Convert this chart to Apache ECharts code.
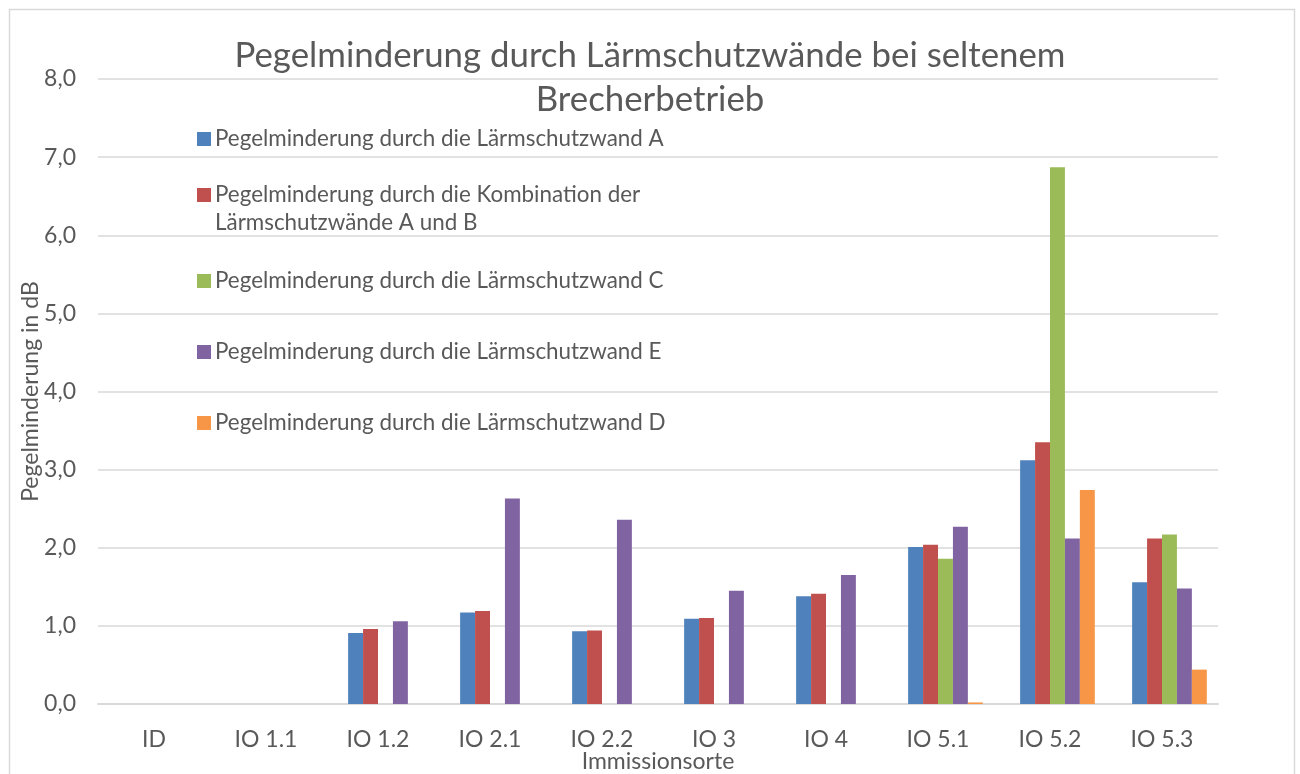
<!DOCTYPE html>
<html>
<head>
<meta charset="utf-8">
<script src="https://cdn.jsdelivr.net/npm/echarts@6/dist/echarts.min.js"></script>
<style>
  html, body { margin: 0; padding: 0; background: #fff; }
  #chart { width: 1300px; height: 774px; }
</style>
</head>
<body>
<div id="chart"></div>
<script>
const categories = ['ID', 'IO 1.1', 'IO 1.2', 'IO 2.1', 'IO 2.2', 'IO 3', 'IO 4', 'IO 5.1', 'IO 5.2', 'IO 5.3']
const seriesNames = [
  'Pegelminderung durch die Lärmschutzwand A',
  'Pegelminderung durch die Kombination der Lärmschutzwände A und B',
  'Pegelminderung durch die Lärmschutzwand C',
  'Pegelminderung durch die Lärmschutzwand E',
  'Pegelminderung durch die Lärmschutzwand D'
]
// the source chart has an empty first series, it only reserves the first slot
const leer = [null, null, null, null, null, null, null, null, null, null]
const wandA = [0, 0, 0.91, 1.17, 0.93, 1.09, 1.38, 2.01, 3.12, 1.56]
const wandAB = [0, 0, 0.96, 1.19, 0.94, 1.10, 1.41, 2.04, 3.35, 2.12]
const wandC = [0, 0, 0, 0, 0, 0, 0, 1.86, 6.87, 2.17]
const wandE = [0, 0, 1.06, 2.63, 2.36, 1.45, 1.65, 2.27, 2.12, 1.48]
const wandD = [0, 0, 0, 0, 0, 0, 0, 0.02, 2.74, 0.44]
const colors = ['#4F81BD', '#C0504D', '#9BBB59', '#8064A2', '#F79646']

const font = 'Lato'
const textColor = '#595959'
const lineColor = '#d9d9d9'

// legend rows: vertical position of each item (Excel places them one by one)
const legendTops = [125, 181, 267, 338, 409]
const legends = seriesNames.map((name, i) => {
  const lg = {
    orient: 'vertical',
    left: 197,
    top: legendTops[i],
    data: [name],
    itemWidth: 14,
    itemHeight: 14,
    itemGap: 0,
    icon: 'rect',
    textStyle: {
      fontFamily: font,
      fontSize: 22.4,
      color: textColor,
      lineHeight: 28,
      padding: [0, 0, 0, -1]
    },
    padding: 0,
    selectedMode: false
  }
  if (i === 1) {
    // two-line label, square stays next to the first line
    lg.formatter = () => 'Pegelminderung durch die Kombination der\nLärmschutzwände A und B'
    lg.icon = 'path://M0,0H14V14H0Z M0,42H0.01'
    lg.itemHeight = 42
  }
  return lg
})

const valuesList = [wandA, wandAB, wandC, wandE, wandD]

const series = [{
  name: 'leer',
  type: 'bar',
  data: leer,
  barGap: '0%',
  barCategoryGap: '20%',
  itemStyle: { color: 'transparent' }
}]
seriesNames.forEach((name, i) => {
  series.push({
    name,
    type: 'bar',
    data: valuesList[i],
    barGap: '0%',
    barCategoryGap: '20%',
    itemStyle: { color: colors[i] }
  })
})

const option = {
  backgroundColor: '#fff',
  animation: false,
  title: {
    text: 'Pegelminderung durch Lärmschutzwände bei seltenem\nBrecherbetrieb',
    left: 'center',
    top: 29,
    textStyle: {
      fontFamily: font,
      fontSize: 34.8,
      fontWeight: 'normal',
      color: textColor,
      lineHeight: 44
    }
  },
  graphic: [{
    type: 'rect',
    shape: { x: 9.5, y: 9.5, width: 1285, height: 800 },
    style: { fill: null, stroke: lineColor, lineWidth: 1.5 },
    silent: true
  }],
  legend: legends,
  grid: {
    left: 98,
    right: 82,
    top: 79,
    bottom: 70,
    outerBoundsMode: 'none'
  },
  xAxis: {
    type: 'category',
    data: categories,
    name: 'Immissionsorte',
    nameLocation: 'middle',
    nameGap: 46,
    nameMoveOverlap: false,
    nameTextStyle: {
      fontFamily: font,
      fontSize: 23,
      color: textColor
    },
    axisLine: { lineStyle: { color: lineColor, width: 2 } },
    axisTick: { show: false },
    axisLabel: {
      fontFamily: font,
      fontSize: 23,
      color: textColor,
      margin: 24
    }
  },
  yAxis: {
    type: 'value',
    min: 0,
    max: 8,
    interval: 1,
    name: 'Pegelminderung in dB',
    nameLocation: 'middle',
    nameGap: 56,
    nameMoveOverlap: false,
    nameTextStyle: {
      fontFamily: font,
      fontSize: 23,
      color: textColor
    },
    axisLine: { show: false },
    axisTick: { show: false },
    splitLine: { lineStyle: { color: lineColor, width: 1.5 } },
    axisLabel: {
      fontFamily: font,
      fontSize: 23,
      color: textColor,
      margin: 22,
      formatter: (v) => v.toFixed(1).replace('.', ',')
    }
  },
  series
}

const myChart = echarts.init(document.getElementById('chart'))
myChart.setOption(option)
</script>
</body>
</html>
